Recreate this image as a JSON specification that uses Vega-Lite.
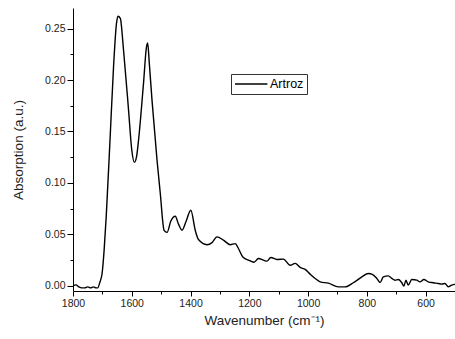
{
  "$schema": "https://vega.github.io/schema/vega-lite/v6.json",
  "width": 382,
  "height": 283,
  "autosize": {"type": "none"},
  "padding": {"left": 73, "top": 8, "right": 0, "bottom": 48},
  "background": "white",
  "config": {
    "view": {"stroke": null},
    "font": "Liberation Sans",
    "axis": {"grid": false, "domainColor": "#000", "tickColor": "#000", "labelColor": "#222", "titleColor": "#222", "labelFont": "Liberation Sans", "titleFont": "Liberation Sans", "titleFontWeight": "normal", "labelFlush": false}
  },
  "data": {"values": [
    {"w": 1800, "a": 0.000}, {"w": 1790, "a": 0.001}, {"w": 1780, "a": -0.001}, {"w": 1770, "a": -0.002},
    {"w": 1760, "a": -0.002}, {"w": 1750, "a": -0.001}, {"w": 1740, "a": -0.002}, {"w": 1730, "a": -0.001},
    {"w": 1722, "a": -0.002}, {"w": 1716, "a": -0.002}, {"w": 1708, "a": 0.004}, {"w": 1701, "a": 0.012},
    {"w": 1694, "a": 0.035}, {"w": 1687, "a": 0.067}, {"w": 1673, "a": 0.148}, {"w": 1662, "a": 0.213},
    {"w": 1652, "a": 0.255}, {"w": 1647, "a": 0.262}, {"w": 1639, "a": 0.260}, {"w": 1628, "a": 0.229},
    {"w": 1611, "a": 0.171}, {"w": 1600, "a": 0.132}, {"w": 1591, "a": 0.120}, {"w": 1584, "a": 0.125},
    {"w": 1577, "a": 0.1415}, {"w": 1560, "a": 0.197}, {"w": 1550, "a": 0.232}, {"w": 1546, "a": 0.236},
    {"w": 1540, "a": 0.215}, {"w": 1531, "a": 0.180}, {"w": 1514, "a": 0.122}, {"w": 1503, "a": 0.090},
    {"w": 1490, "a": 0.054}, {"w": 1480, "a": 0.052}, {"w": 1467, "a": 0.063}, {"w": 1452, "a": 0.0677},
    {"w": 1441, "a": 0.060}, {"w": 1429, "a": 0.054}, {"w": 1416, "a": 0.062}, {"w": 1399, "a": 0.0735},
    {"w": 1384, "a": 0.054}, {"w": 1373, "a": 0.045}, {"w": 1344, "a": 0.040}, {"w": 1327, "a": 0.042},
    {"w": 1310, "a": 0.0476}, {"w": 1288, "a": 0.0444}, {"w": 1265, "a": 0.040}, {"w": 1248, "a": 0.041},
    {"w": 1237, "a": 0.0363}, {"w": 1222, "a": 0.028}, {"w": 1203, "a": 0.025}, {"w": 1184, "a": 0.023},
    {"w": 1169, "a": 0.0266}, {"w": 1152, "a": 0.025}, {"w": 1140, "a": 0.024}, {"w": 1127, "a": 0.0276},
    {"w": 1106, "a": 0.0256}, {"w": 1084, "a": 0.026}, {"w": 1061, "a": 0.020}, {"w": 1044, "a": 0.0218},
    {"w": 1027, "a": 0.0179}, {"w": 1010, "a": 0.016}, {"w": 993, "a": 0.0114}, {"w": 976, "a": 0.0072},
    {"w": 959, "a": 0.0039}, {"w": 931, "a": 0.0026}, {"w": 897, "a": -0.001}, {"w": 874, "a": -0.001},
    {"w": 846, "a": 0.003}, {"w": 817, "a": 0.0087}, {"w": 795, "a": 0.012}, {"w": 783, "a": 0.0114},
    {"w": 766, "a": 0.0072}, {"w": 755, "a": 0.0033}, {"w": 744, "a": 0.0087}, {"w": 727, "a": 0.0097},
    {"w": 715, "a": 0.0072}, {"w": 704, "a": 0.0055}, {"w": 693, "a": 0.0062}, {"w": 681, "a": 0.003},
    {"w": 674, "a": -0.0003}, {"w": 667, "a": 0.0055}, {"w": 659, "a": 0.0007}, {"w": 647, "a": 0.0062},
    {"w": 630, "a": 0.0055}, {"w": 619, "a": 0.0039}, {"w": 606, "a": 0.0062}, {"w": 591, "a": 0.0039},
    {"w": 574, "a": 0.003}, {"w": 557, "a": 0.0023}, {"w": 545, "a": 0.0017}, {"w": 534, "a": 0.0023},
    {"w": 523, "a": -0.001}, {"w": 511, "a": 0.0007}, {"w": 500, "a": 0.0014}
  ]},
  "transform": [{"calculate": "'Artroz'", "as": "s"}],
  "layer": [
    {
      "mark": {"type": "line", "strokeWidth": 1.4, "interpolate": "monotone", "clip": true},
      "encoding": {
        "x": {"field": "w", "type": "quantitative", "scale": {"domain": [1800, 500], "nice": false, "zero": false},
          "axis": {"title": "Wavenumber (cm⁻¹)", "values": [1800, 1600, 1400, 1200, 1000, 800, 600], "format": "d", "tickSize": 5, "labelPadding": 2, "labelFontSize": 10.5, "titleFontSize": 13.5, "titlePadding": 5, "domainWidth": 1}},
        "y": {"field": "a", "type": "quantitative", "scale": {"domain": [-0.005, 0.27], "nice": false, "zero": false},
          "axis": {"title": "Absorption (a.u.)", "values": [0, 0.05, 0.1, 0.15, 0.2, 0.25], "format": ".2f", "tickSize": 6, "labelPadding": 2, "labelFontSize": 10.5, "titleFontSize": 13.5, "titlePadding": 19, "domainWidth": 1}},
        "color": {"field": "s", "type": "nominal", "scale": {"range": ["#000"]},
          "legend": {"title": null, "orient": "none", "legendX": 158, "legendY": 66, "symbolType": "M-1,0H4.4", "symbolSize": 144, "symbolStrokeWidth": 1.4, "symbolStrokeColor": "#000", "strokeColor": "#333", "padding": 3, "labelFontSize": 12.5, "labelColor": "#000", "labelOffset": 22}}
      }
    },
    {
      "mark": {"type": "line", "opacity": 0},
      "encoding": {
        "x": {"field": "w", "type": "quantitative", "scale": {"domain": [1800, 500], "nice": false, "zero": false},
          "axis": {"title": null, "orient": "bottom", "values": [1700, 1500, 1300, 1100, 900, 700], "labels": false, "tickSize": 3, "domain": false}},
        "y": {"field": "a", "type": "quantitative", "scale": {"domain": [-0.005, 0.27], "nice": false, "zero": false},
          "axis": {"title": null, "orient": "left", "values": [0.025, 0.075, 0.125, 0.175, 0.225], "labels": false, "tickSize": 3, "domain": false}}
      }
    }
  ],
  "resolve": {"axis": {"x": "independent", "y": "independent"}}
}
